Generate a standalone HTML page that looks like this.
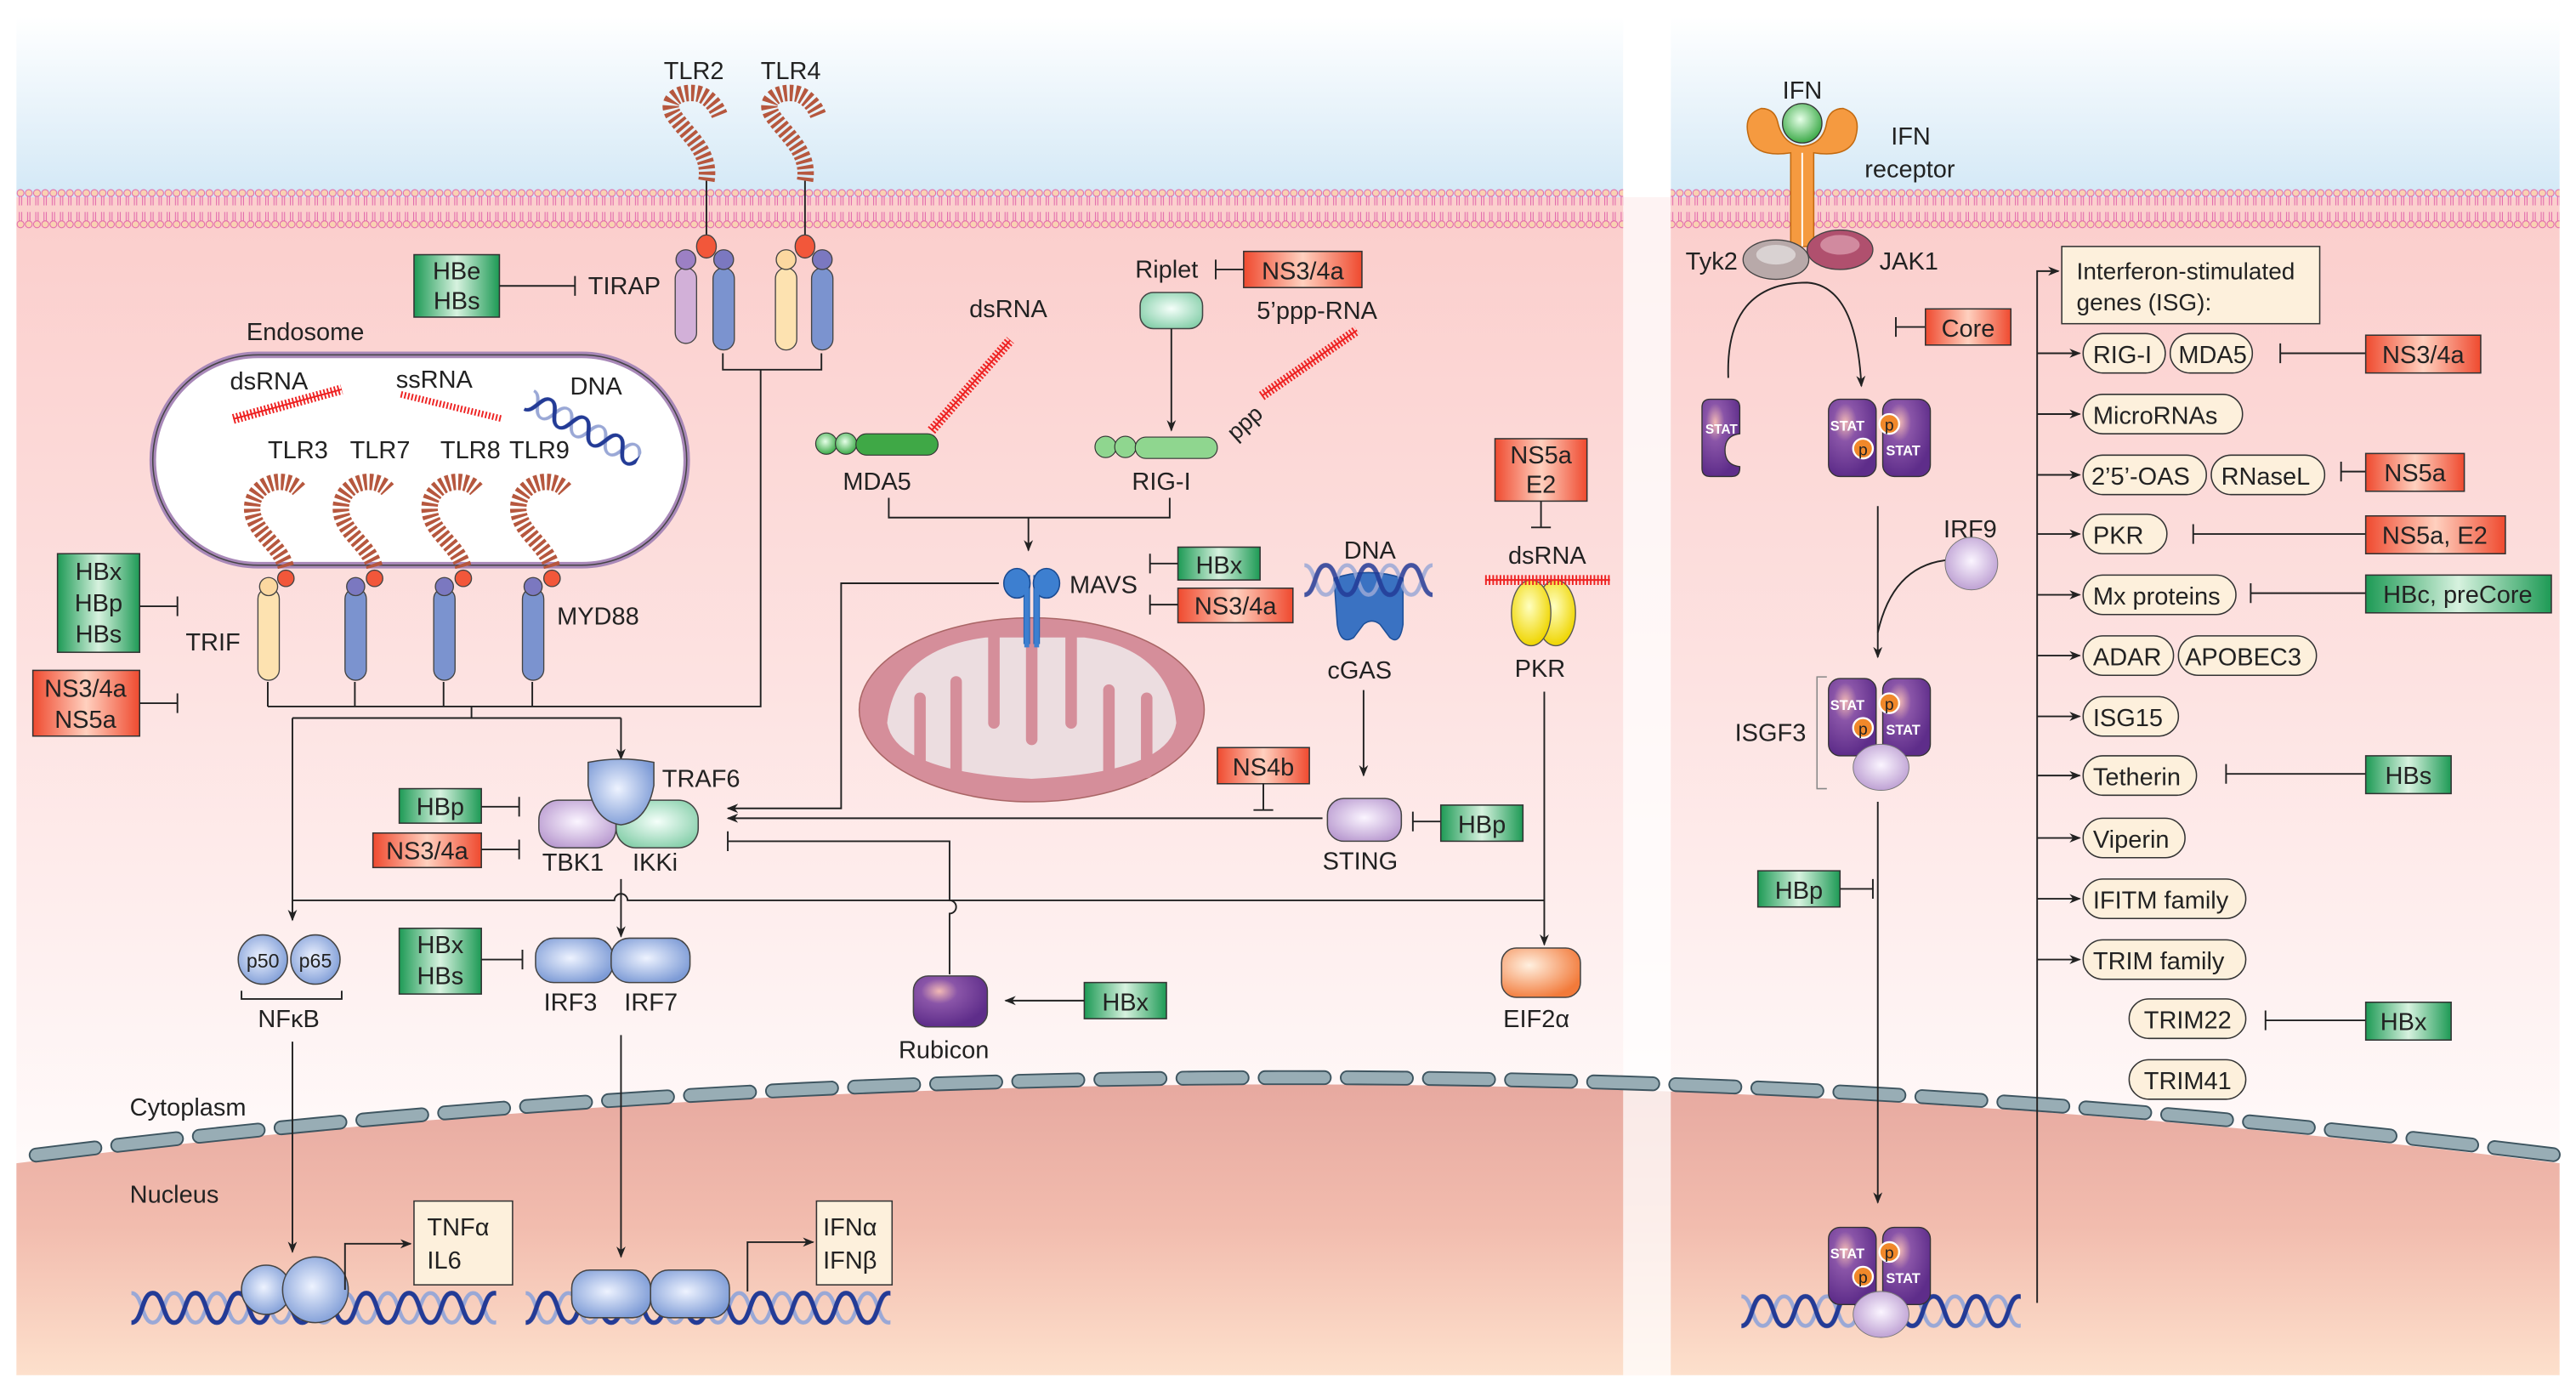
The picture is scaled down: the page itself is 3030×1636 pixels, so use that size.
<!DOCTYPE html>
<html><head><meta charset="utf-8"><style>
html,body{margin:0;padding:0;background:#fff;}
svg{display:block;}
text{font-family:"Liberation Sans",sans-serif;fill:#222;}
</style></head><body>
<svg width="3030" height="1636" viewBox="0 0 1568 846.6" xmlns="http://www.w3.org/2000/svg">
<defs>
<linearGradient id="sky" x1="0" y1="0" x2="0" y2="1"><stop offset="0" stop-color="#ffffff"/><stop offset="1" stop-color="#d3e8f6"/></linearGradient>
<linearGradient id="cyto" gradientUnits="userSpaceOnUse" x1="0" y1="140" x2="0" y2="705"><stop offset="0" stop-color="#fbcfcd"/><stop offset="0.5" stop-color="#fde3e2"/><stop offset="1" stop-color="#fffafa"/></linearGradient>
<linearGradient id="nuc" gradientUnits="userSpaceOnUse" x1="0" y1="655" x2="0" y2="837"><stop offset="0" stop-color="#e6a89f"/><stop offset="0.5" stop-color="#f2bcae"/><stop offset="1" stop-color="#fde0cc"/></linearGradient>
<linearGradient id="gbox" x1="0" y1="0" x2="1" y2="0"><stop offset="0" stop-color="#1d9a55"/><stop offset="0.5" stop-color="#d7f2df"/><stop offset="1" stop-color="#1d9a55"/></linearGradient>
<linearGradient id="rbox" x1="0" y1="0" x2="1" y2="0"><stop offset="0" stop-color="#ef4a2f"/><stop offset="0.5" stop-color="#ffd0bf"/><stop offset="1" stop-color="#ef4a2f"/></linearGradient>
<radialGradient id="blue" cx="0.45" cy="0.45" r="0.6"><stop offset="0" stop-color="#eef3ff"/><stop offset="1" stop-color="#7d9bd6"/></radialGradient>
<radialGradient id="lav" cx="0.5" cy="0.45" r="0.6"><stop offset="0" stop-color="#fbf5ff"/><stop offset="1" stop-color="#b99ad0"/></radialGradient>
<radialGradient id="mint" cx="0.5" cy="0.45" r="0.6"><stop offset="0" stop-color="#f5fffa"/><stop offset="1" stop-color="#86cfaa"/></radialGradient>
<radialGradient id="purp" cx="0.35" cy="0.3" r="0.7"><stop offset="0" stop-color="#f2b9b5"/><stop offset="0.35" stop-color="#8a55a8"/><stop offset="1" stop-color="#5e2d8a"/></radialGradient>
<radialGradient id="orng" cx="0.35" cy="0.35" r="0.7"><stop offset="0" stop-color="#fff0e0"/><stop offset="1" stop-color="#f27a3a"/></radialGradient>
<radialGradient id="grn" cx="0.45" cy="0.4" r="0.6"><stop offset="0" stop-color="#e6ffe8"/><stop offset="1" stop-color="#3caa48"/></radialGradient>
<radialGradient id="yel" cx="0.45" cy="0.4" r="0.6"><stop offset="0" stop-color="#ffffc0"/><stop offset="1" stop-color="#efd500"/></radialGradient>
<pattern id="memb" x="0" y="115" width="5" height="24" patternUnits="userSpaceOnUse">
<circle cx="2.5" cy="2.5" r="2.1" fill="#f9d2b2" stroke="#e060a8" stroke-width="0.5"/>
<circle cx="2.5" cy="21.5" r="2.1" fill="#f9d2b2" stroke="#e060a8" stroke-width="0.5"/>
<path d="M1.8 4.5 V10 M3.2 4.5 V10 M1.8 14 V19.5 M3.2 14 V19.5" stroke="#e060a8" stroke-width="0.5"/>
</pattern>
<pattern id="helix" x="0" y="0" width="26" height="24" patternUnits="userSpaceOnUse">
<path d="M0 3 C7 3 6 21 13 21 C20 21 19 3 26 3" fill="none" stroke="#9aa8d6" stroke-width="2.4"/>
<path d="M0 21 C7 21 6 3 13 3 C20 3 19 21 26 21" fill="none" stroke="#233b96" stroke-width="2.8"/>
</pattern>
<marker id="ar" viewBox="0 0 10 10" refX="9" refY="5" markerWidth="7" markerHeight="7" orient="auto"><path d="M0 1 L10 5 L0 9 L3 5Z" fill="#222"/></marker>
</defs>

<!-- backgrounds -->
<rect x="10" y="10" width="978" height="110" fill="url(#sky)"/>
<rect x="1017" y="10" width="541" height="110" fill="url(#sky)"/>
<rect x="10" y="120" width="1548" height="600" fill="url(#cyto)"/>
<path d="M10 708 A6264 6264 0 0 1 1558 708 L1558 837 L10 837 Z" fill="url(#nuc)"/>
<rect x="988" y="10" width="29" height="827" fill="#fff" opacity="0.75"/>
<rect x="10" y="115" width="978" height="24" fill="url(#memb)"/>
<rect x="1017" y="115" width="541" height="24" fill="url(#memb)"/>
<path d="M22 703 A6264 6264 0 0 1 1556 703" fill="none" stroke="#3e5560" stroke-width="9" stroke-dasharray="36 14" stroke-linecap="round"/>
<path d="M22 703 A6264 6264 0 0 1 1556 703" fill="none" stroke="#98adb5" stroke-width="7" stroke-dasharray="36 14" stroke-linecap="round"/>

<g font-size="15">
<!-- TLR2/4 -->
<text x="404" y="48">TLR2</text><text x="463" y="48">TLR4</text>
<g fill="none" stroke="#b6573e" stroke-width="10" stroke-dasharray="2 1.6">
<path d="M430 110 C433 92 418 82 410 70 C404 60 415 55 425 57 C432 59 436 65 438 70"/>
<path d="M490 110 C493 92 478 82 470 70 C464 60 475 55 485 57 C492 59 496 65 498 70"/>
</g>
<path d="M430 110 V143 M490 110 V143" stroke="#222" stroke-width="1"/>
<rect x="411" y="163" width="13" height="46" rx="6.5" fill="#d2b0d8" stroke="#444" stroke-width="0.7"/>
<circle cx="417.5" cy="158" r="6" fill="#9c80c4" stroke="#444" stroke-width="0.7"/>
<rect x="434" y="163" width="13" height="50" rx="6.5" fill="#7b93cf" stroke="#444" stroke-width="0.7"/>
<circle cx="440.5" cy="158" r="6" fill="#7b78c0" stroke="#444" stroke-width="0.7"/>
<ellipse cx="430" cy="150" rx="6" ry="7" fill="#f2573a" stroke="#444" stroke-width="0.7"/>
<rect x="472" y="163" width="13" height="50" rx="6.5" fill="#fde2b0" stroke="#444" stroke-width="0.7"/>
<circle cx="478.5" cy="158" r="6" fill="#fcd8a0" stroke="#444" stroke-width="0.7"/>
<rect x="494" y="163" width="13" height="50" rx="6.5" fill="#7b93cf" stroke="#444" stroke-width="0.7"/>
<circle cx="500.5" cy="158" r="6" fill="#7b78c0" stroke="#444" stroke-width="0.7"/>
<ellipse cx="490" cy="150" rx="6" ry="7" fill="#f2573a" stroke="#444" stroke-width="0.7"/>
<path d="M440 215 V225 H500 V215 M463 225 V430 H163" fill="none" stroke="#222" stroke-width="1"/>
<rect x="252" y="155" width="52" height="38" fill="url(#gbox)" stroke="#333" stroke-width="0.8"/>
<text x="278" y="170" text-anchor="middle">HBe</text><text x="278" y="188" text-anchor="middle">HBs</text>
<path d="M304 174 H350 M350 168 V180" stroke="#222" stroke-width="1"/>
<text x="358" y="179">TIRAP</text>

<!-- Endosome -->
<text x="150" y="207">Endosome</text>
<rect x="93" y="216" width="325" height="128" rx="64" fill="#fff" stroke="#a888b8" stroke-width="4"/>
<rect x="93" y="216" width="325" height="128" rx="64" fill="none" stroke="#444" stroke-width="0.8"/>
<text x="140" y="237">dsRNA</text><text x="241" y="236">ssRNA</text><text x="347" y="240">DNA</text>
<path d="M142 255 L208 237" stroke="#ee2222" stroke-width="6" stroke-dasharray="1 1.2"/>
<path d="M142 255 L208 237" stroke="#ee2222" stroke-width="1"/>
<path d="M244 240 L306 255" stroke="#ee2222" stroke-width="4" stroke-dasharray="1 1.2"/>
<g transform="translate(326 236) rotate(28) scale(0.9 0.7)"><rect x="0" y="0" width="84" height="24" fill="url(#helix)"/></g>
<text x="163" y="279">TLR3</text><text x="213" y="279">TLR7</text><text x="268" y="279">TLR8</text><text x="310" y="279">TLR9</text>
<g fill="none" stroke="#b6573e" stroke-width="10" stroke-dasharray="2 1.6">
<path d="M174 345 C170 330 150 322 154 305 C158 292 175 290 182 298"/>
<path d="M228 345 C224 330 204 322 208 305 C212 292 229 290 236 298"/>
<path d="M282 345 C278 330 258 322 262 305 C266 292 283 290 290 298"/>
<path d="M336 345 C332 330 312 322 316 305 C320 292 337 290 344 298"/>
</g>
<rect x="157" y="358" width="13" height="56" rx="6.5" fill="#fde2b0" stroke="#444" stroke-width="0.7"/>
<circle cx="163.5" cy="357" r="5.5" fill="#fcd8a0" stroke="#444" stroke-width="0.7"/>
<rect x="210" y="358" width="13" height="56" rx="6.5" fill="#7b93cf" stroke="#444" stroke-width="0.7"/>
<circle cx="216.5" cy="357" r="5.5" fill="#7b78c0" stroke="#444" stroke-width="0.7"/>
<rect x="264" y="358" width="13" height="56" rx="6.5" fill="#7b93cf" stroke="#444" stroke-width="0.7"/>
<circle cx="270.5" cy="357" r="5.5" fill="#7b78c0" stroke="#444" stroke-width="0.7"/>
<rect x="318" y="358" width="13" height="56" rx="6.5" fill="#7b93cf" stroke="#444" stroke-width="0.7"/>
<circle cx="324.5" cy="357" r="5.5" fill="#7b78c0" stroke="#444" stroke-width="0.7"/>
<circle cx="174" cy="352" r="5" fill="#f2573a" stroke="#444" stroke-width="0.7"/>
<circle cx="228" cy="352" r="5" fill="#f2573a" stroke="#444" stroke-width="0.7"/>
<circle cx="282" cy="352" r="5" fill="#f2573a" stroke="#444" stroke-width="0.7"/>
<circle cx="336" cy="352" r="5" fill="#f2573a" stroke="#444" stroke-width="0.7"/>
<text x="339" y="380">MYD88</text><text x="113" y="396">TRIF</text>
<rect x="35" y="337" width="50" height="60" fill="url(#gbox)" stroke="#333" stroke-width="0.8"/>
<text x="60" y="353" text-anchor="middle">HBx</text><text x="60" y="372" text-anchor="middle">HBp</text><text x="60" y="391" text-anchor="middle">HBs</text>
<path d="M85 369 H108 M108 363 V375" stroke="#222" stroke-width="1"/>
<rect x="20" y="408" width="65" height="40" fill="url(#rbox)" stroke="#333" stroke-width="0.8"/>
<text x="52" y="424" text-anchor="middle">NS3/4a</text><text x="52" y="443" text-anchor="middle">NS5a</text>
<path d="M85 428 H108 M108 422 V434" stroke="#222" stroke-width="1"/>
<path d="M163 415 V430 M216 415 V430 M270 415 V430 M324 415 V430 M287 430 V437 M178 437 H378" fill="none" stroke="#222" stroke-width="1"/>
<path d="M178 437 V560" stroke="#222" stroke-width="1" marker-end="url(#ar)"/>
<path d="M378 437 V462" stroke="#222" stroke-width="1" marker-end="url(#ar)"/>

<!-- RLR -->
<text x="691" y="169">Riplet</text>
<path d="M740 164 H757 M740 158 V170" stroke="#222" stroke-width="1"/>
<rect x="757" y="153" width="72" height="22" fill="url(#rbox)" stroke="#333" stroke-width="0.8"/>
<text x="793" y="170" text-anchor="middle">NS3/4a</text>
<rect x="694" y="178" width="38" height="22" rx="8" fill="url(#mint)" stroke="#444" stroke-width="0.8"/>
<text x="590" y="193">dsRNA</text><text x="765" y="194">5’ppp-RNA</text>
<path d="M713 200 V262" stroke="#222" stroke-width="1" marker-end="url(#ar)"/>
<path d="M567 262 L615 207" stroke="#ee2222" stroke-width="6" stroke-dasharray="1 1.2"/>
<path d="M567 262 L615 207" stroke="#ee2222" stroke-width="1"/>
<path d="M768 241 L826 201" stroke="#ee2222" stroke-width="6" stroke-dasharray="1 1.2"/>
<path d="M768 241 L826 201" stroke="#ee2222" stroke-width="1"/>
<text x="745" y="266" transform="rotate(-42 752 258)" font-size="14">ppp</text>
<circle cx="503" cy="270" r="6.5" fill="url(#grn)" stroke="#333" stroke-width="0.6"/>
<circle cx="515" cy="270" r="6.5" fill="url(#grn)" stroke="#333" stroke-width="0.6"/>
<rect x="521" y="264" width="50" height="13" rx="6.5" fill="#3fa846" stroke="#333" stroke-width="0.6"/>
<circle cx="673" cy="272" r="6.5" fill="#8fd68f" stroke="#333" stroke-width="0.6"/>
<circle cx="685" cy="272" r="6.5" fill="#8fd68f" stroke="#333" stroke-width="0.6"/>
<rect x="691" y="266" width="50" height="13" rx="6.5" fill="#8fd68f" stroke="#333" stroke-width="0.6"/>
<text x="513" y="298">MDA5</text><text x="689" y="298">RIG-I</text>
<path d="M541 303 V315 H712 V303" fill="none" stroke="#222" stroke-width="1"/>
<path d="M626 315 V335" stroke="#222" stroke-width="1" marker-end="url(#ar)"/>

<!-- Mitochondrion -->
<ellipse cx="628" cy="432" rx="105" ry="56" fill="#d58e9a" stroke="#a66" stroke-width="0.8"/>
<path d="M540 440 Q545 395 600 388 H660 Q712 395 716 440 Q712 470 628 474 Q545 470 540 440 Z" fill="#ecdde0"/>
<g stroke="#d58e9a" stroke-width="7" stroke-linecap="round">
<path d="M560 470 V425"/><path d="M582 470 V415"/><path d="M605 388 V440"/><path d="M628 388 V450"/><path d="M652 388 V440"/><path d="M675 470 V420"/><path d="M698 470 V425"/>
</g>
<path d="M625 392 V350 M631 392 V350" stroke="#1a5fb0" stroke-width="4"/>
<ellipse cx="619" cy="355" rx="8" ry="9" fill="#3d7fd0" stroke="#1a4a90" stroke-width="0.8"/>
<ellipse cx="637" cy="355" rx="8" ry="9" fill="#3d7fd0" stroke="#1a4a90" stroke-width="0.8"/>
<path d="M625 394 V358 M631 394 V358" stroke="#3d7fd0" stroke-width="3"/>
<text x="651" y="361">MAVS</text>
<rect x="717" y="333" width="50" height="20" fill="url(#gbox)" stroke="#333" stroke-width="0.8"/>
<text x="742" y="349" text-anchor="middle">HBx</text>
<rect x="717" y="358" width="70" height="21" fill="url(#rbox)" stroke="#333" stroke-width="0.8"/>
<text x="752" y="374" text-anchor="middle">NS3/4a</text>
<path d="M717 343 H700 M700 337 V349 M717 368 H700 M700 362 V374" stroke="#222" stroke-width="1"/>
<path d="M608 355 H512 V492 H443" fill="none" stroke="#222" stroke-width="1" marker-end="url(#ar)"/>

<!-- cGAS -->
<text x="818" y="340">DNA</text>
<path d="M812 352 Q833 345 854 352 V380 Q852 393 846 388 L840 380 Q835 376 830 380 L824 388 Q816 393 814 380 Z" fill="#3a72c2" stroke="#1d4f98" stroke-width="0.8"/>
<g transform="translate(794 341)"><rect x="0" y="0" width="78" height="24" fill="url(#helix)" opacity="0.85"/></g>
<text x="808" y="413">cGAS</text>
<path d="M830 420 V472" stroke="#222" stroke-width="1" marker-end="url(#ar)"/>
<rect x="808" y="486" width="45" height="26" rx="10" fill="url(#lav)" stroke="#444" stroke-width="0.8"/>
<text x="805" y="529">STING</text>
<path d="M877 500 H860 M860 494 V506" stroke="#222" stroke-width="1"/>
<rect x="877" y="490" width="50" height="22" fill="url(#gbox)" stroke="#333" stroke-width="0.8"/>
<text x="902" y="507" text-anchor="middle">HBp</text>
<rect x="741" y="455" width="56" height="22" fill="url(#rbox)" stroke="#333" stroke-width="0.8"/>
<text x="769" y="472" text-anchor="middle">NS4b</text>
<path d="M769 477 V493 M763 493 H775" stroke="#222" stroke-width="1"/>
<path d="M805 498 H443" stroke="#222" stroke-width="1" marker-end="url(#ar)"/>

<!-- PKR -->
<rect x="910" y="267" width="56" height="38" fill="url(#rbox)" stroke="#333" stroke-width="0.8"/>
<text x="938" y="282" text-anchor="middle">NS5a</text><text x="938" y="300" text-anchor="middle">E2</text>
<path d="M938 305 V321 M932 321 H944" stroke="#222" stroke-width="1"/>
<text x="918" y="343">dsRNA</text>
<ellipse cx="947" cy="373" rx="12" ry="20" fill="url(#yel)" stroke="#555" stroke-width="0.7"/>
<ellipse cx="932" cy="373" rx="12" ry="20" fill="url(#yel)" stroke="#555" stroke-width="0.7"/>
<path d="M904 353 H980" stroke="#ee2222" stroke-width="6" stroke-dasharray="1 1.2"/>
<path d="M904 353 H980" stroke="#ee2222" stroke-width="1"/>
<text x="922" y="412">PKR</text>
<path d="M940 421 V575" stroke="#222" stroke-width="1" marker-end="url(#ar)"/>
<rect x="914" y="577" width="48" height="30" rx="9" fill="url(#orng)" stroke="#444" stroke-width="0.8"/>
<text x="915" y="625">EIF2α</text>

<!-- TRAF6 / TBK1 -->
<rect x="328" y="487" width="47" height="29" rx="12" fill="url(#lav)" stroke="#444" stroke-width="0.8"/>
<rect x="375" y="487" width="50" height="29" rx="12" fill="url(#mint)" stroke="#444" stroke-width="0.8"/>
<path d="M358 464 Q378 460 398 464 V478 Q394 500 378 502 Q362 500 358 478 Z" fill="url(#blue)" stroke="#444" stroke-width="0.8"/>
<text x="403" y="479">TRAF6</text>
<text x="330" y="530">TBK1</text><text x="385" y="530">IKKi</text>
<rect x="243" y="480" width="50" height="21" fill="url(#gbox)" stroke="#333" stroke-width="0.8"/>
<text x="268" y="496" text-anchor="middle">HBp</text>
<rect x="227" y="507" width="66" height="21" fill="url(#rbox)" stroke="#333" stroke-width="0.8"/>
<text x="260" y="523" text-anchor="middle">NS3/4a</text>
<path d="M293 491 H316 M316 485 V497 M293 517 H316 M316 511 V523" stroke="#222" stroke-width="1"/>
<path d="M578 593 V556 A4 4 0 0 0 578 548 V512 H443 M443 506 V518" fill="none" stroke="#222" stroke-width="1"/>
<path d="M178 548 H374 A4 4 0 0 1 382 548 H940" fill="none" stroke="#222" stroke-width="1"/>
<path d="M378 535 V570" stroke="#222" stroke-width="1" marker-end="url(#ar)"/>
<rect x="556" y="594" width="45" height="31" rx="9" fill="url(#purp)" stroke="#444" stroke-width="0.8"/>
<text x="547" y="644">Rubicon</text>
<rect x="660" y="598" width="50" height="22" fill="url(#gbox)" stroke="#333" stroke-width="0.8"/>
<text x="685" y="615" text-anchor="middle">HBx</text>
<path d="M660 609 H612" stroke="#222" stroke-width="1" marker-end="url(#ar)"/>

<!-- NFkB / IRF -->
<circle cx="160" cy="584" r="15" fill="url(#blue)" stroke="#444" stroke-width="0.8"/>
<circle cx="192" cy="584" r="15" fill="url(#blue)" stroke="#444" stroke-width="0.8"/>
<text x="160" y="589" text-anchor="middle" font-size="12">p50</text><text x="192" y="589" text-anchor="middle" font-size="12">p65</text>
<path d="M147 603 V608 H208 V603" fill="none" stroke="#222" stroke-width="1"/>
<text x="157" y="625">NFκB</text>
<path d="M178 634 V762" stroke="#222" stroke-width="1" marker-end="url(#ar)"/>
<rect x="243" y="565" width="50" height="40" fill="url(#gbox)" stroke="#333" stroke-width="0.8"/>
<text x="268" y="580" text-anchor="middle">HBx</text><text x="268" y="599" text-anchor="middle">HBs</text>
<path d="M293 584 H318 M318 578 V590" stroke="#222" stroke-width="1"/>
<rect x="326" y="571" width="47" height="27" rx="11" fill="url(#blue)" stroke="#444" stroke-width="0.8"/>
<rect x="372" y="571" width="48" height="27" rx="11" fill="url(#blue)" stroke="#444" stroke-width="0.8"/>
<text x="331" y="615">IRF3</text><text x="380" y="615">IRF7</text>
<path d="M378 630 V765" stroke="#222" stroke-width="1" marker-end="url(#ar)"/>
<text x="79" y="679">Cytoplasm</text><text x="79" y="732">Nucleus</text>

<!-- nuclear DNA left -->
<g transform="translate(80 784)"><rect x="0" y="0" width="222" height="24" fill="url(#helix)"/></g>
<circle cx="162" cy="785" r="15" fill="url(#blue)" stroke="#444" stroke-width="0.8"/>
<circle cx="192" cy="785" r="20" fill="url(#blue)" stroke="#444" stroke-width="0.8"/>
<path d="M210 785 V757 H250" fill="none" stroke="#222" stroke-width="1" marker-end="url(#ar)"/>
<rect x="252" y="731" width="60" height="51" fill="#fdf0dc" stroke="#333" stroke-width="0.8"/>
<text x="260" y="752">TNFα</text><text x="260" y="772">IL6</text>
<g transform="translate(320 784)"><rect x="0" y="0" width="222" height="24" fill="url(#helix)"/></g>
<rect x="348" y="773" width="48" height="29" rx="11" fill="url(#blue)" stroke="#444" stroke-width="0.8"/>
<rect x="396" y="773" width="48" height="29" rx="11" fill="url(#blue)" stroke="#444" stroke-width="0.8"/>
<path d="M455 786 V756 H495" fill="none" stroke="#222" stroke-width="1" marker-end="url(#ar)"/>
<rect x="497" y="731" width="46" height="51" fill="#fdf0dc" stroke="#333" stroke-width="0.8"/>
<text x="501" y="752">IFNα</text><text x="501" y="772">IFNβ</text>

<!-- right panel -->
<text x="1085" y="60">IFN</text>
<path d="M1090 150 V93 Q1070 96 1065 85 Q1060 70 1072 66 Q1080 66 1082 74 Q1085 88 1097 89 Q1110 88 1112 74 Q1114 66 1122 66 Q1134 70 1129 85 Q1124 96 1104 93 V150 Z" fill="#f59a40" stroke="#c26a10" stroke-width="0.8"/>
<path d="M1097 93 V150" stroke="#fff" stroke-width="1"/>
<circle cx="1097" cy="75" r="12" fill="url(#grn)" stroke="#333" stroke-width="0.7"/>
<text x="1151" y="88">IFN</text><text x="1135" y="108">receptor</text>
<ellipse cx="1120" cy="152" rx="20" ry="12" fill="#b0506e" stroke="#444" stroke-width="0.7"/>
<ellipse cx="1120" cy="149" rx="12" ry="6" fill="#e8b0c0" opacity="0.6"/>
<ellipse cx="1081" cy="158" rx="20" ry="12" fill="#b8a9a9" stroke="#444" stroke-width="0.7"/>
<ellipse cx="1081" cy="155" rx="12" ry="6" fill="#eee" opacity="0.6"/>
<text x="1026" y="164">Tyk2</text><text x="1144" y="164">JAK1</text>
<path d="M1052 230 Q1050 172 1100 172 Q1130 174 1133 235" fill="none" stroke="#222" stroke-width="1" marker-end="url(#ar)"/>
<path d="M1172 199 H1154 M1154 193 V205" stroke="#222" stroke-width="1"/>
<rect x="1172" y="188" width="52" height="22" fill="url(#rbox)" stroke="#333" stroke-width="0.8"/>
<text x="1198" y="205" text-anchor="middle">Core</text>
<path d="M1041 243 H1054 Q1059 243 1059 248 V264 Q1050 265 1050 274 Q1050 283 1059 284 V285 Q1059 290 1054 290 H1041 Q1036 290 1036 285 V248 Q1036 243 1041 243Z" fill="url(#purp)" stroke="#333" stroke-width="0.7"/>
<text x="1038" y="264" font-size="8" font-weight="bold" style="fill:#fff">STAT</text>
<g id="dim">
<rect x="1113" y="243" width="29" height="47" rx="7" fill="url(#purp)" stroke="#333" stroke-width="0.7"/>
<rect x="1146" y="243" width="29" height="47" rx="7" fill="url(#purp)" stroke="#333" stroke-width="0.7"/>
<text x="1114" y="262" font-size="8.5" font-weight="bold" style="fill:#fff">STAT</text>
<text x="1148" y="277" font-size="8.5" font-weight="bold" style="fill:#fff">STAT</text>
<circle cx="1150" cy="258" r="6" fill="#f0882a" stroke="#fff" stroke-width="1.2"/>
<circle cx="1134" cy="273" r="6" fill="#f0882a" stroke="#fff" stroke-width="1.2"/>
<text x="1150" y="262" font-size="10" text-anchor="middle">p</text>
<text x="1134" y="277" font-size="10" text-anchor="middle">p</text>
</g>
<path d="M1143 308 V400" stroke="#222" stroke-width="1" marker-end="url(#ar)"/>
<text x="1183" y="327">IRF9</text>
<circle cx="1200" cy="343" r="16" fill="url(#lav)" stroke="#777" stroke-width="0.5"/>
<path d="M1184 341 Q1152 345 1143 385" fill="none" stroke="#222" stroke-width="1"/>
<text x="1056" y="451">ISGF3</text>
<path d="M1112 412 H1106 V480 H1112" fill="none" stroke="#888" stroke-width="0.8"/>
<use href="#dim" transform="translate(0 170)"/>
<ellipse cx="1145" cy="467" rx="17" ry="14" fill="url(#lav)" stroke="#777" stroke-width="0.5"/>
<rect x="1070" y="530" width="50" height="22" fill="url(#gbox)" stroke="#333" stroke-width="0.8"/>
<text x="1095" y="547" text-anchor="middle">HBp</text>
<path d="M1120 541 H1140 M1140 535 V547" stroke="#222" stroke-width="1"/>
<path d="M1143 488 V732" stroke="#222" stroke-width="1" marker-end="url(#ar)"/>
<g transform="translate(1060 786)"><rect x="0" y="0" width="170" height="24" fill="url(#helix)"/></g>
<use href="#dim" transform="translate(0 504)"/>
<ellipse cx="1145" cy="800" rx="17" ry="14" fill="url(#lav)" stroke="#777" stroke-width="0.5"/>

<!-- ISG list -->
<path d="M1240 793 V165 H1253" fill="none" stroke="#222" stroke-width="1" marker-end="url(#ar)"/>
<rect x="1255" y="150" width="157" height="47" fill="#fdf0dc" stroke="#333" stroke-width="0.8"/>
<text x="1264" y="170" font-size="14.5">Interferon-stimulated</text><text x="1264" y="189" font-size="14.5">genes (ISG):</text>
<g stroke="#222" stroke-width="1" marker-end="url(#ar)">
<path d="M1240 215 H1266"/><path d="M1240 252 H1266"/><path d="M1240 289 H1266"/><path d="M1240 325 H1266"/>
<path d="M1240 362 H1266"/><path d="M1240 399 H1266"/><path d="M1240 436 H1266"/><path d="M1240 472 H1266"/>
<path d="M1240 510 H1266"/><path d="M1240 547 H1266"/><path d="M1240 584 H1266"/>
</g>
<g fill="#fdf0dc" stroke="#333" stroke-width="0.8">
<rect x="1268" y="203" width="50" height="24" rx="12"/><rect x="1321" y="203" width="50" height="24" rx="12"/>
<rect x="1268" y="240" width="97" height="24" rx="12"/>
<rect x="1268" y="277" width="75" height="24" rx="12"/><rect x="1346" y="277" width="69" height="24" rx="12"/>
<rect x="1268" y="313" width="51" height="24" rx="12"/>
<rect x="1268" y="350" width="93" height="24" rx="12"/>
<rect x="1268" y="387" width="55" height="24" rx="12"/><rect x="1326" y="387" width="84" height="24" rx="12"/>
<rect x="1268" y="424" width="58" height="24" rx="12"/>
<rect x="1268" y="460" width="69" height="24" rx="12"/>
<rect x="1268" y="498" width="62" height="24" rx="12"/>
<rect x="1268" y="535" width="99" height="24" rx="12"/>
<rect x="1268" y="572" width="99" height="24" rx="12"/>
<rect x="1296" y="608" width="71" height="24" rx="12"/>
<rect x="1296" y="645" width="71" height="24" rx="12"/>
</g>
<text x="1274" y="221">RIG-I</text><text x="1326" y="221">MDA5</text>
<text x="1274" y="258">MicroRNAs</text>
<text x="1273" y="295">2’5’-OAS</text><text x="1352" y="295">RNaseL</text>
<text x="1274" y="331">PKR</text>
<text x="1274" y="368">Mx proteins</text>
<text x="1274" y="405">ADAR</text><text x="1330" y="405">APOBEC3</text>
<text x="1274" y="442">ISG15</text>
<text x="1274" y="478">Tetherin</text>
<text x="1274" y="516">Viperin</text>
<text x="1274" y="553">IFITM family</text>
<text x="1274" y="590">TRIM family</text>
<text x="1305" y="626">TRIM22</text>
<text x="1305" y="663">TRIM41</text>
<g stroke="#222" stroke-width="1">
<path d="M1388 215 H1440 M1388 209 V221"/>
<path d="M1425 287 H1440 M1425 281 V293"/>
<path d="M1335 325 H1440 M1335 319 V331"/>
<path d="M1370 361 H1440 M1370 355 V367"/>
<path d="M1355 471 H1440 M1355 465 V477"/>
<path d="M1379 621 H1440 M1379 615 V627"/>
</g>
<rect x="1440" y="204" width="70" height="23" fill="url(#rbox)" stroke="#333" stroke-width="0.8"/>
<text x="1475" y="221" text-anchor="middle">NS3/4a</text>
<rect x="1440" y="276" width="60" height="23" fill="url(#rbox)" stroke="#333" stroke-width="0.8"/>
<text x="1470" y="293" text-anchor="middle">NS5a</text>
<rect x="1440" y="314" width="85" height="23" fill="url(#rbox)" stroke="#333" stroke-width="0.8"/>
<text x="1482" y="331" text-anchor="middle">NS5a, E2</text>
<rect x="1440" y="350" width="113" height="23" fill="url(#gbox)" stroke="#333" stroke-width="0.8"/>
<text x="1496" y="367" text-anchor="middle">HBc, preCore</text>
<rect x="1440" y="460" width="52" height="23" fill="url(#gbox)" stroke="#333" stroke-width="0.8"/>
<text x="1466" y="477" text-anchor="middle">HBs</text>
<rect x="1440" y="610" width="52" height="23" fill="url(#gbox)" stroke="#333" stroke-width="0.8"/>
<text x="1463" y="627" text-anchor="middle">HBx</text>
</g>
</svg>
</body></html>
